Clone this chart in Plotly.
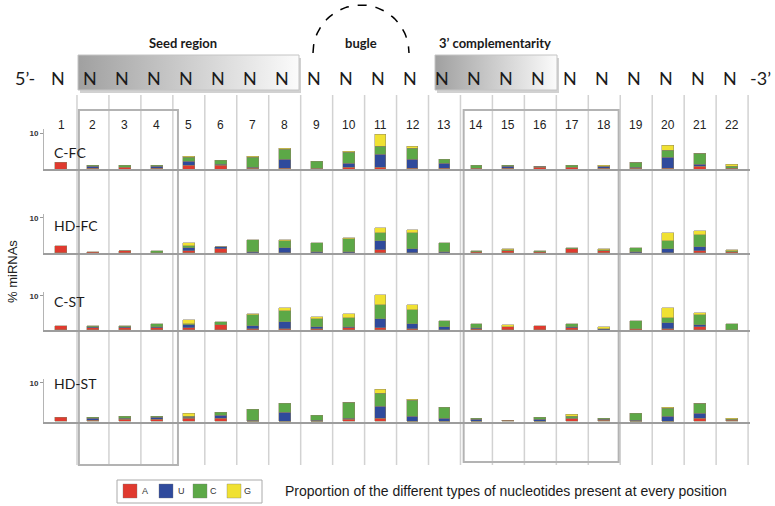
import numpy as np
import plotly.graph_objects as go

# ---------------- data ----------------
positions = list(range(1, 23))
nucleotides = ["A", "U", "C", "G"]
panel_names = ["C-FC", "HD-FC", "C-ST", "HD-ST"]

cfc_A = [1.7, 0.3, 0.5, 0.1, 0.9, 0.9, 0.2, 0.2, 0.1, 0.5, 0.5, 0.2, 0.1, 0.2, 0.2, 0.4, 0.5, 0.3, 0.1, 0.1, 0.65, 0.2]
cfc_U = [0, 0.3, 0, 0.5, 1.3, 0.5, 0.2, 2.5, 0.2, 1.0, 3.6, 2.5, 1.4, 0, 0.6, 0.2, 0, 0.3, 0.3, 3.1, 0.75, 0]
cfc_C = [0, 0.3, 0.5, 0.3, 0.9, 0.9, 2.8, 2.7, 1.8, 3.2, 2.3, 2.9, 1.3, 0.8, 0.2, 0.2, 0.5, 0.1, 1.3, 1.9, 2.8, 0.6]
cfc_G = [0, 0, 0, 0, 0.3, 0, 0.2, 0.3, 0, 0.1, 3.1, 0.6, 0, 0, 0, 0, 0, 0.2, 0.1, 1.5, 0.1, 0.4]

hdfc_A = [1.9, 0.3, 0.4, 0.05, 0.65, 0.95, 0.05, 0.05, 0.05, 0.05, 0.75, 0.05, 0.05, 0.1, 0.4, 0.3, 1.1, 0.4, 0.05, 0.05, 0.65, 0.1]
hdfc_U = [0, 0, 0, 0, 0.65, 0.6, 0.3, 1.3, 0.3, 0.3, 2.5, 0.95, 0.3, 0.1, 0.1, 0, 0, 0.15, 0.3, 0.95, 0.95, 0]
hdfc_C = [0, 0, 0.25, 0.35, 0.6, 0.1, 3.2, 2.1, 2.4, 3.6, 2.5, 4.6, 2.3, 0.35, 0.3, 0.35, 0.2, 0.15, 1.0, 2.4, 3.4, 0.35]
hdfc_G = [0, 0, 0, 0, 0.8, 0, 0, 0.2, 0, 0.35, 1.4, 1.0, 0, 0, 0.2, 0, 0, 0.25, 0, 2.3, 1.1, 0.3]

cst_A = [1.1, 0.4, 0.6, 0.4, 0.6, 1.25, 0.3, 0.1, 0.1, 0.4, 0.6, 0.2, 0.05, 0.1, 0.8, 1.2, 0.4, 0, 0.1, 0.1, 0.8, 0]
cst_U = [0, 0.4, 0.1, 0.3, 0.7, 0, 0.8, 2.3, 0.6, 0.3, 2.6, 1.5, 0.7, 0.4, 0.1, 0, 0.3, 0.2, 0.2, 1.8, 0.7, 0]
cst_C = [0, 0.4, 0.5, 0.85, 0.3, 1.15, 3.3, 3.0, 2.5, 2.8, 3.9, 4.1, 1.7, 1.05, 0, 0, 0.85, 0, 2.2, 1.6, 2.8, 1.65]
cst_G = [0, 0, 0, 0, 1.1, 0, 0.1, 0.9, 0.4, 1.0, 3.1, 1.3, 0, 0, 0.35, 0, 0, 0.6, 0, 2.9, 0.6, 0]

hdst_A = [1.0, 0.2, 0.5, 0.6, 0.7, 0.85, 0.1, 0.1, 0.1, 0.5, 0.7, 0.1, 0.1, 0.1, 0.25, 0.1, 0.7, 0.2, 0.1, 0.1, 0.95, 0.2]
hdst_U = [0, 0.6, 0.3, 0.5, 0.5, 0.85, 0.2, 2.3, 0.2, 0.2, 3.2, 1.2, 0.6, 0.4, 0, 0.5, 0.1, 0.3, 0.2, 1.3, 1.1, 0]
hdst_C = [0, 0.2, 0.5, 0.2, 0.2, 0.6, 2.8, 2.3, 1.4, 4.1, 3.2, 4.1, 2.9, 0.2, 0.15, 0.4, 0.5, 0.2, 1.8, 1.9, 2.6, 0.45]
hdst_G = [0, 0, 0, 0, 0.7, 0, 0, 0, 0, 0.2, 1.0, 0.2, 0, 0, 0, 0, 0.5, 0, 0, 0.3, 0.1, 0.2]

panel_data = [
    [cfc_A, cfc_U, cfc_C, cfc_G],
    [hdfc_A, hdfc_U, hdfc_C, hdfc_G],
    [cst_A, cst_U, cst_C, cst_G],
    [hdst_A, hdst_U, hdst_C, hdst_G],
]
nuc_colors = ["#e03a2f", "#2f4a9c", "#5ca847", "#f0e132"]

# ---------------- layout helpers (pixels -> paper) ----------------
W, H = 775, 506
def fx(p):
    return p / W
def fy(p):
    return 1 - p / H

baselines = [169, 253, 330, 422]
px_per_pct = [3.6, 3.53, 3.43, 3.93]
ymax = 11
xrange_ = [0.468, 22.56]
xdom = [fx(44), fx(750)]

fig = go.Figure()
layout = dict(
    width=W, height=H,
    margin=dict(l=0, r=0, t=0, b=0),
    paper_bgcolor="white", plot_bgcolor="rgba(0,0,0,0)",
    barmode="stack", bargap=0, showlegend=False,
    font=dict(family="Liberation Sans, Arial", color="#222"),
)

for k, name in enumerate(panel_names):
    sfx = "" if k == 0 else str(k + 1)
    base = baselines[k]
    top = base - ymax * px_per_pct[k]
    layout["xaxis" + sfx] = dict(
        domain=xdom, range=xrange_, anchor="y" + sfx,
        showline=True, linecolor="#9d9d9d", linewidth=1.5,
        showticklabels=False, ticks="", showgrid=False, zeroline=False,
        fixedrange=True,
    )
    layout["yaxis" + sfx] = dict(
        domain=[fy(base), fy(top)], range=[0, ymax], anchor="x" + sfx,
        showline=True, linecolor="#b4b4b4", linewidth=1,
        ticks="outside", ticklen=3, tickcolor="#999", tickwidth=1,
        tickvals=[10], ticktext=["<b>10</b>"],
        tickfont=dict(size=8, color="#333"),
        showgrid=False, zeroline=False, fixedrange=True,
    )
    for j, nuc in enumerate(nucleotides):
        vals = panel_data[k][j]
        fig.add_trace(go.Bar(
            x=positions, y=[v if v > 0 else None for v in vals],
            xaxis="x" + sfx, yaxis="y" + sfx,
            name=nuc, legendgroup=nuc,
            width=0.37,
            marker=dict(color=nuc_colors[j],
                        line=dict(color="rgba(140,130,100,0.7)", width=0.7)),
            hovertemplate=name + " pos %{x}: %{y}%<extra>" + nuc + "</extra>",
        ))

# overlay axes in pixel coordinates for header decorations
layout["xaxis5"] = dict(domain=[0, 1], range=[0, W], anchor="y5", visible=False, fixedrange=True)
layout["yaxis5"] = dict(domain=[0, 1], range=[H, 0], anchor="x5", visible=False, fixedrange=True)

def rect_path(x0, y0, x1, y1):
    return [x0, x1, x1, x0, x0], [y0, y0, y1, y1, y0]

header_boxes = [(78, 55, 299, 90), (435, 55, 557, 90)]
for (x0, y0, x1, y1) in header_boxes:
    sx, sy = rect_path(x0 + 2, y0 + 3, x1 + 2, y1 + 3)
    fig.add_trace(go.Scatter(x=sx, y=sy, xaxis="x5", yaxis="y5", mode="lines",
                             fill="toself", fillcolor="rgba(0,0,0,0.18)",
                             line=dict(width=0), showlegend=False, hoverinfo="skip"))
    bx, by = rect_path(x0, y0, x1, y1)
    fig.add_trace(go.Scatter(x=bx, y=by, xaxis="x5", yaxis="y5", mode="lines",
                             fill="toself",
                             fillgradient=dict(type="horizontal",
                                               colorscale=[[0, "#a0a0a0"], [1, "#fbfbfb"]]),
                             line=dict(color="#c4c4c4", width=1),
                             showlegend=False, hoverinfo="skip"))

# dashed arc for the bugle
theta = np.linspace(np.pi, 0, 60)
arc_x = 361 + 48 * np.cos(theta)
arc_y = 53 - 48 * np.sin(theta)
fig.add_trace(go.Scatter(x=arc_x, y=arc_y, xaxis="x5", yaxis="y5", mode="lines",
                         line=dict(color="black", width=1.5, dash="dash"),
                         showlegend=False, hoverinfo="skip"))

# ---------------- shapes ----------------
shapes = []
for i in positions:
    shapes.append(dict(type="line", xref="x", yref="paper",
                       x0=i + 0.5, x1=i + 0.5, y0=fy(465), y1=fy(95),
                       line=dict(color="#d2d2d2", width=1.5), layer="below"))
# region boxes
shapes.append(dict(type="rect", xref="x", yref="paper", x0=1.56, x1=4.66,
                   y0=fy(465), y1=fy(110), line=dict(color="#b3b3b3", width=2),
                   fillcolor="rgba(0,0,0,0)", layer="below"))
shapes.append(dict(type="rect", xref="x", yref="paper", x0=13.6, x1=18.45,
                   y0=fy(462), y1=fy(110), line=dict(color="#b3b3b3", width=2),
                   fillcolor="rgba(0,0,0,0)", layer="below"))

# manual legend
shapes.append(dict(type="rect", xref="paper", yref="paper", x0=fx(117), x1=fx(262),
                   y0=fy(503), y1=fy(480), line=dict(color="#aaaaaa", width=1),
                   fillcolor="white"))
leg_sq_x = [123, 159, 193, 227]
leg_txt_x = [145, 181, 213, 247]
for j, nuc in enumerate(nucleotides):
    shapes.append(dict(type="rect", xref="paper", yref="paper",
                       x0=fx(leg_sq_x[j]), x1=fx(leg_sq_x[j] + 14),
                       y0=fy(498), y1=fy(484),
                       line=dict(color="rgba(120,120,120,0.6)", width=0.6),
                       fillcolor=nuc_colors[j]))

# ---------------- annotations ----------------
ann = []
def add_text(text, x, y, xref="paper", xanchor="center", font=None, **kw):
    ann.append(dict(text=text, x=x, y=y, xref=xref, yref="paper",
                    xanchor=xanchor, yanchor="middle", showarrow=False,
                    font=font or {}, **kw))

for j, nuc in enumerate(nucleotides):
    add_text(nuc, fx(leg_txt_x[j]), fy(491), font=dict(size=9, color="#333"))

nfont = dict(family="Lato, Noto Sans", size=18, color="#1a1a1a")
add_text("5’-", fx(25), fy(78), font=nfont)
add_text("-3’", fx(760), fy(78), font=nfont)
for i in positions:
    add_text("N", i - 0.08, fy(78), xref="x", font=nfont)
    add_text(str(i), i, fy(125), xref="x", font=dict(size=12, color="#222"))

hfont = dict(family="Lato, Noto Sans", size=13, color="#1a1a1a")
for txt, xc in [("<b>Seed region</b>", 183), ("<b>bugle</b>", 361),
                ("<b>3’ complementarity</b>", 495)]:
    add_text(txt, fx(xc), fy(43), font=hfont)

label_y = [152, 225, 301, 383]
for k, name in enumerate(panel_names):
    add_text(name, fx(52), fy(label_y[k]), xanchor="left",
             font=dict(family="Lato, Noto Sans", size=14, color="#1a1a1a"))

add_text("% miRNAs", fx(12), fy(272), textangle=-90, font=dict(size=13, color="#222"))
add_text("Proportion of the different types of nucleotides present at every position",
         fx(283), fy(491), xanchor="left", font=dict(size=14, color="#1a1a1a"))

layout["shapes"] = shapes
layout["annotations"] = ann
fig.update_layout(**layout)
fig.write_html("out.html", config={"displayModeBar": False},
               post_script="document.body.style.margin='0px';")
